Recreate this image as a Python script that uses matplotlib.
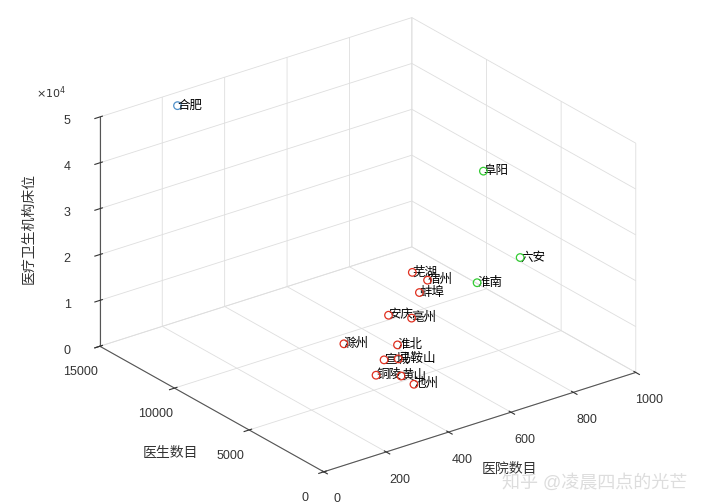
import matplotlib.pyplot as plt

plt.rcParams['font.family'] = ['Liberation Sans', 'Noto Sans CJK SC', 'DejaVu Sans']

cities = ['合肥', '阜阳', '六安', '淮南', '芜湖', '宿州', '蚌埠', '安庆', '亳州',
          '滁州', '淮北', '马鞍山', '宣城', '铜陵', '黄山', '池州']
hospitals = [225, 727, 773, 635, 547, 548, 498, 399, 449, 232, 356, 325, 289, 225, 310, 313]
doctors = [14500, 4500, 3000, 3000, 5500, 4500, 4000, 4000, 3500, 3500, 2500, 1800, 2000, 1200, 1300, 500]
beds = [48500, 41600, 24500, 22000, 21600, 21700, 21000, 18200, 17400, 16500, 15400, 14300, 14500, 14000, 11800, 11400]
groups = [0, 1, 1, 1, 2, 2, 2, 2, 2, 2, 2, 2, 2, 2, 2, 2]
group_colors = ['#4F8FC8', '#33CC33', '#E03020']

fig = plt.figure(figsize=(7.01, 5.03), dpi=100)
ax = fig.add_axes([0.015, 0.0, 1.0, 1.0], projection='3d', proj_type='ortho')
ax.view_init(elev=25, azim=-127)
ax.set_box_aspect((1.05, 1, 0.68), zoom=1.15)

for i, name in enumerate(cities):
    ax.scatter(hospitals[i], doctors[i], beds[i], s=30, facecolors='none',
               edgecolors=group_colors[groups[i]], linewidths=0.9, depthshade=False)
    ax.text(hospitals[i], doctors[i], beds[i], name, fontsize=9, va='center')

ax.set_xlim(0, 1000)
ax.set_ylim(0, 15000)
ax.set_zlim(0, 50000)
ax.set_xticks([0, 200, 400, 600, 800, 1000])
ax.set_yticks([0, 5000, 10000, 15000])
ax.set_zticks([0, 10000, 20000, 30000, 40000, 50000])
ax.set_zticklabels(['0', '1', '2', '3', '4', '5'])
fig.text(0.052, 0.805, r'$\times 10^4$', fontsize=8, color='#333333')
ax.set_xlabel('医院数目', fontsize=10, color='#333333')
ax.set_ylabel('医生数目', fontsize=10, color='#333333')
ax.set_zlabel('医疗卫生机构床位', fontsize=10, color='#333333')
ax.tick_params(labelsize=9, colors='#333333')
for axis in (ax.xaxis, ax.yaxis, ax.zaxis):
    axis.set_pane_color((1, 1, 1, 0))
    axis.line.set_color('#555555')
    axis._axinfo['grid']['color'] = (0.87, 0.87, 0.87, 1)
    axis._axinfo['grid']['linewidth'] = 0.6

fig.text(0.98, 0.03, '知乎 @凌晨四点的光芒', ha='right', fontsize=13, color='#dddddd')
fig.savefig('out.png', dpi=100)
